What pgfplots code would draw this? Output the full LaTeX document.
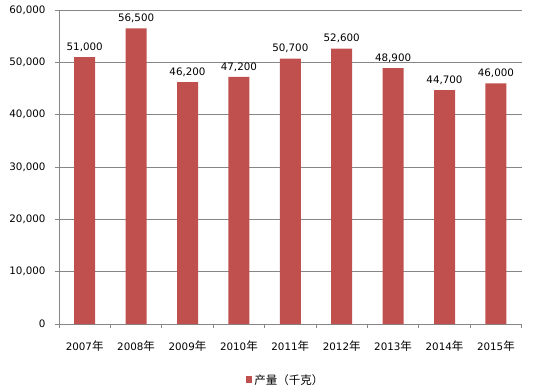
\documentclass[border=0pt]{standalone}
\usepackage{fontspec}
\setmainfont{DejaVu Sans}
\newfontfamily\cjk{Noto Sans CJK SC}
\usepackage{pgfplots}
\pgfplotsset{compat=1.18}
\definecolor{barred}{HTML}{C0504D}
\definecolor{axgray}{HTML}{868686}
\newcommand{\lbl}{\fontsize{10.3}{12}\selectfont}
\newcommand{\nian}{{\cjk\fontsize{11.5}{12}\selectfont 年}}
\begin{document}
\begin{tikzpicture}
\begin{axis}[
  scale only axis,
  width=462.6pt, height=314pt,
  xmin=-0.5, xmax=8.5,
  ymin=0, ymax=60000,
  ytick={0,10000,...,60000},
  xtick={-0.5,0.5,...,8.5},
  x tick label as interval,
  xticklabels={2007\nian,2008\nian,2009\nian,2010\nian,2011\nian,2012\nian,2013\nian,2014\nian,2015\nian},
  axis x line*=bottom, axis y line*=left,
  axis line style={axgray, line width=0.8pt},
  tick style={axgray, line width=0.8pt},
  major tick length=4pt, tick align=outside,
  ymajorgrids, major grid style={axgray, line width=0.8pt},
  /pgf/number format/assume math mode=true,
  /pgf/number format/1000 sep={,},
  scaled y ticks=false,
  tick label style={font=\lbl, text=black},
  yticklabel style={xshift=-6pt},
  xticklabel style={yshift=-9pt},
  ybar, bar width=21pt,
  nodes near coords,
  every node near coord/.append style={font=\lbl, text=black, yshift=2pt},
  legend style={at={(0.49,-0.178)}, anchor=center, draw=none, font=\cjk\fontsize{11.5}{12}\selectfont, fill=none},
  legend image code/.code={\fill[barred] (0pt,-3pt) rectangle (6.5pt,3.5pt);},
]
\addplot[fill=barred, draw=none] coordinates {
(0,51000) (1,56500) (2,46200) (3,47200) (4,50700) (5,52600) (6,48900) (7,44700) (8,46000)};
\addlegendentry{产量（千克）}
\end{axis}
\pgfresetboundingbox
\path[use as bounding box] (current axis.south west) ++(-59pt,-64pt) rectangle ([shift={(11.4pt,10pt)}]current axis.north east);
\end{tikzpicture}
\end{document}
